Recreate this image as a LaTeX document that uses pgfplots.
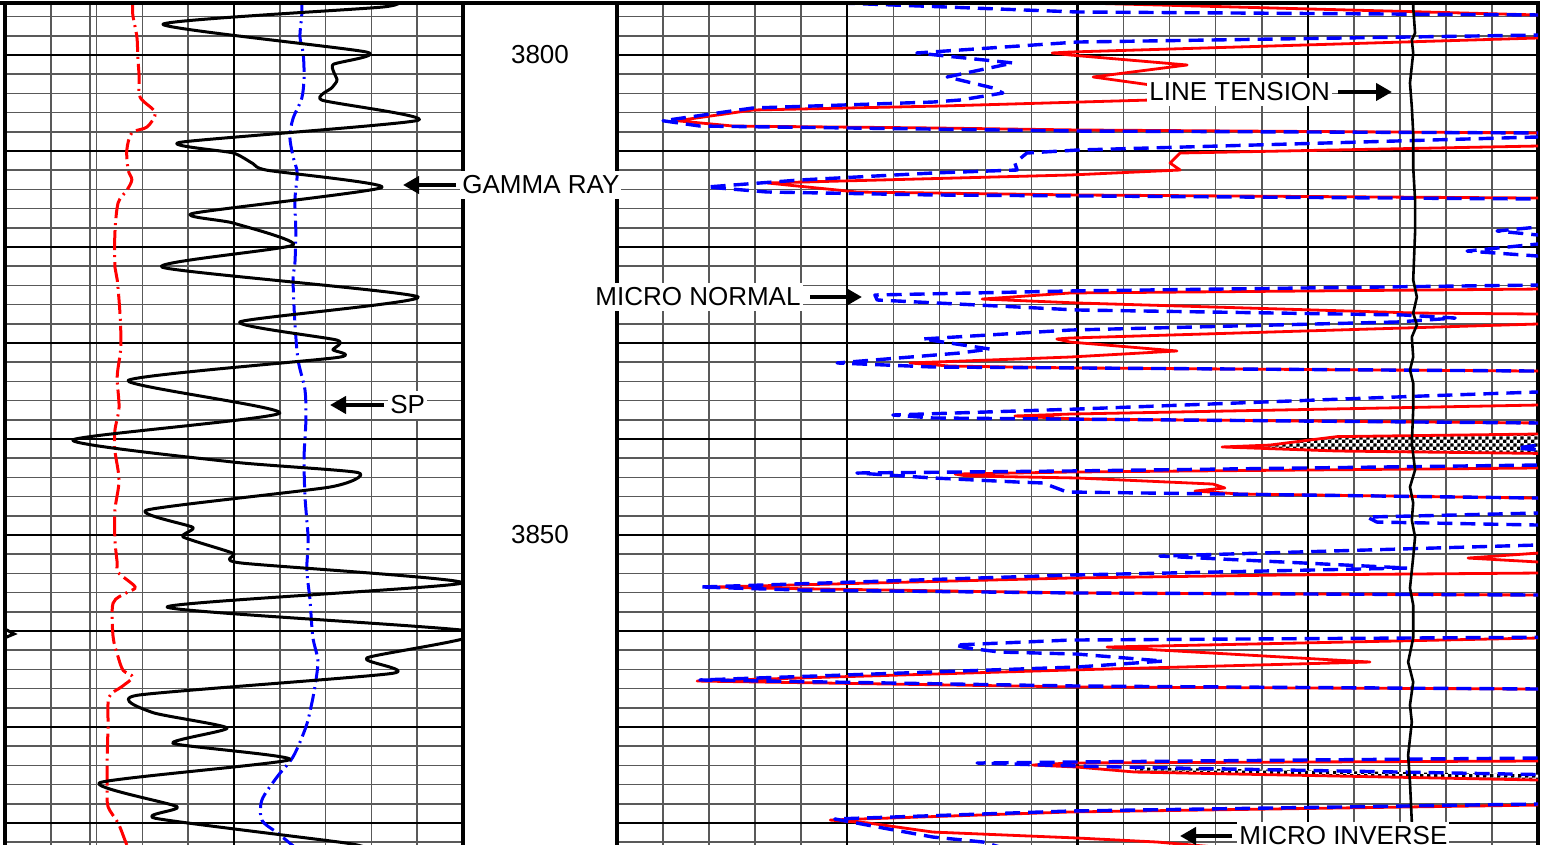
\documentclass[border=0pt]{standalone}
\usepackage{fontspec}
\setmainfont{Liberation Sans}
\usepackage{pgfplots}
\pgfplotsset{compat=1.18}
\usetikzlibrary{patterns,arrows.meta}

\pgfdeclarepatternformonly{finecheck}{\pgfpointorigin}{\pgfqpoint{3.6pt}{3.6pt}}{\pgfqpoint{3.6pt}{3.6pt}}{
  \pgfpathrectangle{\pgfpointorigin}{\pgfqpoint{1.8pt}{1.8pt}}
  \pgfpathrectangle{\pgfqpoint{1.8pt}{1.8pt}}{\pgfqpoint{1.8pt}{1.8pt}}
  \pgfusepath{fill}}

\pgfplotsset{
  logtrack/.style={
    scale only axis, anchor=north west,
    height=423.5pt,
    ymin=3794.583, ymax=3882.81, y dir=reverse,
    ytick={3796,3798,3800,3802,3804,3806,3808,3810,3812,3814,3816,3818,3820,
           3822,3824,3826,3828,3830,3832,3834,3836,3838,3840,3842,3844,3846,
           3848,3850,3852,3854,3856,3858,3860,3862,3864,3866,3868,3870,3872,
           3874,3876,3878,3880,3882},
    extra y ticks={3800,3810,3820,3830,3840,3850,3860,3870,3880},
    minor tick num=0,
    grid=major,
    major grid style={black!65, line width=0.8pt},
    extra y tick style={major grid style={black, line width=1.3pt}},
    extra x tick style={major grid style={black, line width=1.1pt}},
    xticklabels={}, yticklabels={},
    extra x tick labels={}, extra y tick labels={},
    major tick length=0pt,
    axis line style={black, line width=1.7pt},
  },
  gr/.style={black, line width=1.5pt, smooth, tension=0.35, line join=round},
  sp/.style={blue, line width=1.5pt, smooth, dash pattern=on 8pt off 2.5pt on 1pt off 2.5pt},
  cal/.style={red, line width=1.5pt, smooth, dash pattern=on 10pt off 2.5pt on 1pt off 2.5pt},
  minv/.style={red, line width=1.4pt, line join=round},
  mnor/.style={blue, line width=1.7pt, dash pattern=on 7.5pt off 4pt, line join=round},
}

\begin{document}
\begin{tikzpicture}
\useasboundingbox (0,0) rectangle (774.5pt,422.5pt);

% ---------------- left track: GR, SP, caliper
\begin{axis}[logtrack, at={(2.5pt,421pt)}, width=229pt,
    xmin=0, xmax=10,
    xtick={0,1,1.856,2,3,4,5,6,7,8,9,10},
    extra x ticks={5}]
\addplot[cal] coordinates {
(2.79,3794.3) (2.79,3795.8) (2.88,3798.1) (2.90,3800.2) (2.93,3802.3)
(2.95,3804.4) (3.28,3806.0) (3.10,3807.5) (2.77,3808.1) (2.66,3809.9)
(2.69,3812.0) (2.77,3813.0) (2.66,3814.1) (2.47,3815.4) (2.40,3818.5)
(2.40,3822.1) (2.45,3823.4) (2.51,3826.9) (2.53,3830.4) (2.45,3833.5)
(2.49,3836.7) (2.40,3839.1) (2.40,3841.2) (2.49,3844.3) (2.40,3847.4)
(2.40,3850.5) (2.45,3852.9) (2.47,3853.9) (2.84,3855.4) (2.66,3856.0)
(2.36,3857.1) (2.36,3860.6) (2.47,3862.7) (2.58,3864.1) (2.79,3864.8)
(2.55,3865.8) (2.27,3866.9) (2.25,3870.0) (2.23,3873.4) (2.23,3876.3)
(2.25,3878.3) (2.47,3880.0) (2.62,3881.8) (2.70,3882.8)};
\addplot[sp] coordinates {
(6.48,3794.3) (6.48,3795.8) (6.44,3798.1) (6.51,3799.8) (6.53,3802.3)
(6.48,3804.5) (6.29,3806.6) (6.22,3808.5) (6.29,3810.6) (6.38,3812.3)
(6.33,3815.1) (6.35,3818.5) (6.33,3821.7) (6.29,3823.4) (6.33,3827.9)
(6.40,3831.8) (6.55,3834.9) (6.57,3838.0) (6.53,3841.9) (6.55,3846.0)
(6.62,3850.5) (6.59,3853.6) (6.66,3856.8) (6.72,3860.6) (6.83,3863.0)
(6.79,3865.1) (6.70,3867.5) (6.57,3870.0) (6.29,3873.1) (5.94,3875.2)
(5.61,3877.6) (5.61,3879.7) (5.94,3881.0) (6.22,3882.1) (6.40,3882.8)};
\addplot[gr] coordinates {
(8.62,3794.27) (8.25,3795.0) (3.45,3796.8) (7.90,3799.7) (7.16,3801.0)
(7.25,3802.6) (7.14,3803.4) (6.92,3804.7) (9.02,3806.8) (3.82,3809.1)
(4.98,3810.2) (5.41,3811.3) (5.72,3812.0) (8.23,3813.8) (4.10,3816.5)
(4.98,3817.5) (6.29,3819.8) (3.43,3822.1) (9.02,3825.2) (5.13,3827.8)
(7.25,3829.7) (7.16,3830.7) (7.27,3831.5) (2.69,3833.9) (6.00,3837.3)
(1.48,3840.1) (4.98,3842.4) (7.71,3843.5) (7.10,3845.0) (3.10,3847.4)
(4.10,3849.2) (3.89,3850.2) (4.98,3851.9) (5.13,3852.9) (9.98,3855.0)
(3.54,3857.5) (10.3,3860.1) (7.90,3862.8) (8.47,3864.4) (2.88,3866.7)
(3.23,3868.5) (4.85,3870.1) (3.67,3871.7) (6.22,3873.4) (2.07,3875.8)
(3.76,3878.3) (3.28,3879.5) (7.47,3882.1) (7.97,3882.8)};
% wrapped gamma ray
\addplot[black, line width=1.5pt] coordinates {(0,3859.8) (0.2,3860.3) (0,3860.7)};
\end{axis}

% ---------------- right track: microlog and line tension
\begin{axis}[logtrack, at={(308.5pt,421pt)}, width=460.5pt,
    xmin=0, xmax=20,
    xtick={0,...,20},
    extra x ticks={5,10,15}]
% separation (checker) fills
\addplot[draw=none, fill=white] coordinates {
(20,3839.48) (15.64,3839.75) (15.05,3840.10) (14.18,3840.63) (13.14,3840.83)
(15.64,3841.25) (20,3841.50)};
\addplot[draw=none, pattern=finecheck] coordinates {
(20,3839.48) (15.64,3839.75) (15.05,3840.10) (14.18,3840.63) (13.14,3840.83)
(15.64,3841.25) (20,3841.50)};
\addplot[draw=none, fill=white] coordinates {
(11.25,3874.20) (20,3874.95) (20,3875.52) (11.25,3874.69)};
\addplot[draw=none, pattern=finecheck] coordinates {
(11.25,3874.20) (20,3874.95) (20,3875.52) (11.25,3874.69)};
% micro inverse
\addplot[minv] coordinates {
(9.29,3794.48) (20,3795.83) (21,3796.9) (20,3798.23) (9.84,3799.69)
(9.45,3799.79) (9.84,3800.00) (12.38,3801.04) (10.34,3802.29) (13.31,3804.27)
(11.57,3804.69) (7.08,3805.31) (2.95,3805.73) (1.30,3806.85) (2.52,3807.40)
(6.86,3807.60) (9.99,3807.81) (20,3808.12) (21,3808.8) (20,3809.48)
(12.23,3810.21) (12.01,3811.25) (12.23,3811.98) (9.84,3812.50) (3.26,3813.33)
(5.21,3814.27) (9.99,3814.58) (20,3814.90) (21,3815.5) (21,3823.8)
(20,3824.38) (9.84,3824.79) (7.93,3825.42) (9.99,3825.83) (17.37,3826.88)
(20,3826.98) (21,3827.5) (20,3828.02) (9.84,3829.48) (9.55,3829.58)
(9.84,3829.90) (12.16,3830.83) (9.84,3831.46) (6.36,3832.08) (7.23,3832.40)
(9.99,3832.60) (20,3832.92) (21,3833.5) (21,3835.8) (20,3836.46)
(9.84,3837.40) (8.64,3837.60) (9.99,3837.92) (20,3838.33) (21,3838.9)
(20,3839.48) (15.64,3839.75) (15.05,3840.10) (14.18,3840.63) (13.14,3840.83)
(15.64,3841.25) (20,3841.50) (21,3842.0) (20,3843.02) (9.84,3843.44)
(7.34,3843.65) (7.60,3843.85) (9.99,3844.06) (12.94,3844.69) (13.20,3845.10)
(12.55,3845.42) (13.53,3845.73) (20,3846.15) (21,3847.0) (21,3851.3)
(20,3851.88) (18.48,3852.40) (20,3852.81) (21,3853.4) (20,3853.96)
(14.40,3854.17) (9.84,3854.48) (2.08,3855.42) (3.04,3855.52) (9.99,3856.04)
(20,3856.25) (21,3857.0) (21,3860.1) (20,3860.73) (10.64,3861.67)
(16.35,3863.23) (9.84,3864.06) (1.74,3865.21) (9.99,3865.83) (20,3866.04)
(21,3866.8) (21,3872.8) (20,3873.54) (9.84,3873.75) (9.03,3873.96)
(9.99,3874.17) (11.25,3874.69) (20,3875.52) (21,3876.2) (21,3877.5)
(20,3878.13) (9.84,3878.85) (4.63,3879.69) (5.43,3879.98) (6.86,3880.94)
(9.99,3881.56) (11.73,3881.98) (13.75,3882.81)};
% micro normal
\addplot[mnor] coordinates {
(4.84,3794.58) (9.99,3795.52) (20,3795.83) (21,3796.9) (20,3797.92)
(9.99,3798.65) (6.51,3799.79) (8.60,3800.83) (7.17,3802.29) (8.17,3803.44)
(8.38,3803.96) (7.45,3804.69) (6.86,3804.90) (2.95,3805.52) (1.00,3806.85)
(1.80,3807.40) (5.00,3807.60) (9.99,3807.92) (20,3808.12) (21,3808.3)
(20,3808.54) (9.99,3809.90) (8.90,3810.21) (8.64,3811.25) (8.69,3811.98)
(6.86,3812.29) (3.97,3813.02) (1.95,3813.75) (3.26,3814.27) (6.86,3814.58)
(20,3815.00) (21,3815.6) (21,3817.3) (20,3817.92) (19.11,3818.33)
(20,3818.75) (21,3819.2) (20,3819.69) (18.46,3820.42) (20,3820.94)
(21,3821.5) (21,3823.4) (20,3823.96) (9.84,3824.58) (5.60,3825.00)
(5.65,3825.52) (9.99,3826.56) (17.07,3827.08) (18.20,3827.40) (16.94,3827.81)
(9.84,3828.65) (6.64,3829.58) (8.10,3830.63) (7.45,3831.04) (4.78,3832.08)
(6.86,3832.50) (20,3832.92) (21,3833.5) (21,3834.5) (20,3835.10)
(17.50,3835.52) (9.99,3836.88) (5.99,3837.50) (6.86,3837.81) (20,3838.33)
(21,3839.0) (21,3840.1) (20,3840.63) (19.54,3840.94) (20,3841.15)
(21,3841.8) (21,3842.2) (20,3842.71) (9.84,3843.33) (5.21,3843.54)
(6.86,3844.06) (8.69,3844.48) (9.25,3844.58) (9.77,3845.52) (20,3846.15)
(21,3846.8) (21,3847.2) (20,3847.71) (16.29,3848.13) (16.50,3848.65)
(20,3848.96) (21,3849.6) (21,3850.5) (20,3851.04) (11.79,3852.19)
(17.16,3853.44) (9.84,3854.17) (1.80,3855.42) (3.97,3855.73) (9.99,3856.04)
(20,3856.25) (21,3857.0) (21,3860.0) (20,3860.65) (9.84,3860.94)
(7.34,3861.46) (7.60,3861.77) (8.32,3862.19) (9.99,3862.40) (11.86,3863.13)
(9.99,3863.75) (1.80,3865.10) (9.99,3865.73) (20,3866.04) (21,3866.8)
(21,3872.5) (20,3873.23) (9.84,3873.65) (7.82,3873.75) (9.99,3874.06)
(11.25,3874.20) (20,3874.95) (21,3875.7) (21,3877.3) (20,3878.02)
(9.84,3878.75) (4.73,3879.58) (5.78,3880.52) (6.86,3881.46) (7.95,3881.98)
(8.53,3882.81)};
% line tension
\addplot[black, line width=1.3pt] coordinates {
(17.29,3794.58) (17.29,3795.00) (17.33,3797.71) (17.26,3798.44) (17.29,3799.79)
(17.22,3802.92) (17.26,3805.42) (17.29,3808.12) (17.29,3811.67) (17.33,3815.10)
(17.33,3818.54) (17.29,3823.44) (17.37,3825.21) (17.29,3826.88) (17.37,3828.12)
(17.26,3829.38) (17.29,3831.46) (17.22,3832.81) (17.29,3834.17) (17.29,3836.98)
(17.26,3840.42) (17.33,3843.23) (17.22,3845.00) (17.29,3846.67) (17.26,3848.44)
(17.33,3850.21) (17.29,3852.29) (17.22,3855.52) (17.29,3857.29) (17.29,3860.73)
(17.18,3863.23) (17.29,3865.31) (17.22,3867.71) (17.26,3869.48) (17.18,3872.92)
(17.22,3875.73) (17.26,3879.90) (17.26,3882.81)};
\end{axis}

% frame top line across the depth column
\draw[line width=1.7pt] (0pt,421pt) -- (769pt,421pt);

% depth numbers
\node[font=\fontsize{13}{15}\selectfont] at (270pt,395pt) {3800};
\node[font=\fontsize{13}{15}\selectfont] at (270pt,155pt) {3850};

% curve names with arrows
\tikzset{lbl/.style={font=\fontsize{13}{15}\selectfont, fill=white, inner xsep=1pt, inner ysep=2.5pt},
         arr/.style={line width=2.2pt, -{Triangle[length=8pt,width=8.5pt]}}}
\node[lbl, anchor=west] at (230pt,330pt) {GAMMA RAY};
\draw[arr] (228pt,330pt) -- (201.5pt,330pt);
\node[lbl, anchor=west] at (194pt,220pt) {SP};
\draw[arr] (192pt,220pt) -- (165pt,220pt);
\node[lbl, anchor=west] at (296.5pt,274pt) {MICRO NORMAL};
\draw[arr] (405pt,274pt) -- (431pt,274pt);
\node[lbl, anchor=west] at (573.5pt,376.5pt) {LINE TENSION};
\draw[arr] (669pt,376.5pt) -- (696pt,376.5pt);
\node[lbl, anchor=west] at (618.5pt,4.5pt) {MICRO INVERSE};
\draw[arr] (616pt,4.5pt) -- (590pt,4.5pt);
\end{tikzpicture}
\end{document}
